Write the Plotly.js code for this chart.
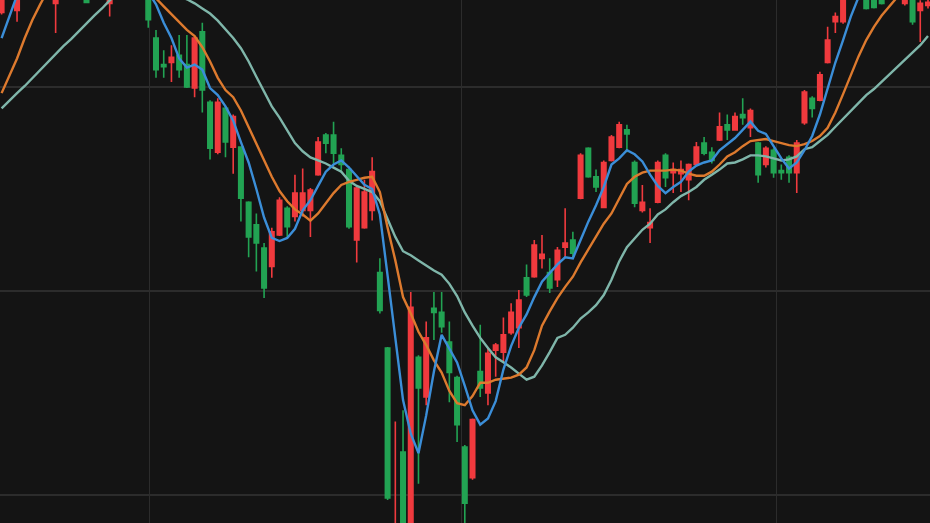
<!DOCTYPE html>
<html>
<head>
<meta charset="utf-8">
<script src="https://cdn.plot.ly/plotly-3.0.1.min.js"></script>
<style>
  html, body { margin: 0; padding: 0; background: #141414; }
  #chart { width: 930px; height: 523px; }
</style>
</head>
<body>
<div id="chart"></div>
<script>
const opens = [
  3473, 3515, 3475, 3493, 3515, 3534, 3520, 3482, 3505, 3534,
  3525, 3534, 3490, 3520, 3482, 3510, 3534, 3520, 3500, 3490,
  3448, 3422, 3424, 3431, 3422, 3399, 3454, 3385, 3336, 3379,
  3341, 3341, 3287, 3265, 3242, 3224, 3255, 3281, 3273, 3279,
  3279, 3314, 3353, 3353, 3333, 3319, 3250, 3262, 3279, 3218,
  3144, 2922, 3042, 2966, 3135, 3096, 3183, 3179, 3150, 3115,
  3047, 3017, 3121, 3100, 3142, 3140, 3159, 3164, 3213, 3214,
  3232, 3218, 3211, 3243, 3250, 3291, 3340, 3312, 3282, 3328,
  3341, 3358, 3326, 3279, 3262, 3287, 3333, 3316, 3315, 3309,
  3324, 3345, 3336, 3348, 3363, 3358, 3373, 3360, 3345, 3324,
  3338, 3318, 3331, 3316, 3365, 3389, 3387, 3424, 3464, 3464,
  3488, 3510, 3505, 3495, 3500, 3490, 3515, 3482, 3495, 3475, 3480
];
const highs = [
  3510, 3523, 3503, 3525, 3539, 3542, 3544, 3513, 3539, 3544,
  3554, 3544, 3529, 3549, 3515, 3539, 3544, 3525, 3520, 3497,
  3456, 3436, 3441, 3451, 3451, 3449, 3463, 3387, 3389, 3381,
  3373, 3342, 3288, 3276, 3247, 3262, 3292, 3283, 3314, 3320,
  3301, 3351, 3355, 3366, 3340, 3322, 3303, 3309, 3331, 3232,
  3145, 3072, 3083, 3199, 3137, 3170, 3199, 3199, 3170, 3117,
  3049, 3075, 3167, 3145, 3149, 3174, 3188, 3201, 3226, 3250,
  3255, 3232, 3243, 3281, 3258, 3335, 3341, 3319, 3328, 3353,
  3366, 3363, 3328, 3304, 3281, 3328, 3335, 3326, 3328, 3325,
  3346, 3351, 3341, 3375, 3373, 3375, 3389, 3379, 3346, 3342,
  3340, 3324, 3333, 3348, 3397, 3391, 3415, 3459, 3473, 3495,
  3515, 3520, 3513, 3505, 3510, 3520, 3529, 3525, 3505, 3485, 3490
];
const lows = [
  3471, 3490, 3464, 3490, 3510, 3515, 3515, 3453, 3500, 3520,
  3520, 3482, 3488, 3515, 3469, 3505, 3515, 3495, 3493, 3458,
  3409, 3409, 3405, 3409, 3399, 3390, 3375, 3329, 3334, 3331,
  3315, 3268, 3233, 3219, 3193, 3213, 3254, 3253, 3268, 3273,
  3253, 3313, 3335, 3325, 3316, 3261, 3228, 3261, 3269, 3178,
  2995, 2917, 2951, 2956, 3011, 3088, 3152, 3159, 3091, 3052,
  2961, 3015, 3096, 3088, 3116, 3130, 3157, 3144, 3194, 3213,
  3222, 3198, 3204, 3233, 3232, 3290, 3311, 3297, 3281, 3327,
  3340, 3336, 3282, 3277, 3247, 3286, 3302, 3296, 3297, 3289,
  3322, 3333, 3325, 3347, 3348, 3357, 3363, 3351, 3306, 3321,
  3311, 3309, 3306, 3296, 3363, 3370, 3386, 3423, 3453, 3462,
  3486, 3490, 3476, 3477, 3481, 3487, 3505, 3480, 3461, 3444, 3477
];
const closes = [
  3500, 3495, 3497, 3520, 3534, 3520, 3539, 3505, 3534, 3525,
  3549, 3483, 3525, 3544, 3510, 3534, 3520, 3500, 3515, 3466,
  3417, 3420, 3429, 3417, 3400, 3448, 3397, 3340, 3385, 3346,
  3371, 3291, 3253, 3247, 3203, 3258, 3289, 3263, 3296, 3296,
  3299, 3346, 3345, 3335, 3324, 3263, 3301, 3297, 3317, 3181,
  2997, 2956, 2966, 3184, 3105, 3154, 3179, 3165, 3120, 3069,
  2992, 3074, 3105, 3139, 3147, 3157, 3179, 3191, 3196, 3245,
  3236, 3203, 3240, 3247, 3237, 3333, 3312, 3302, 3326, 3351,
  3363, 3354, 3286, 3287, 3267, 3326, 3311, 3319, 3319, 3324,
  3341, 3335, 3328, 3361, 3358, 3371, 3370, 3377, 3314, 3340,
  3316, 3316, 3316, 3345, 3395, 3379, 3412, 3446, 3469, 3488,
  3510, 3495, 3477, 3478, 3482, 3515, 3525, 3520, 3464, 3482, 3483
];
const ma5 = [
  3448, 3470, 3490, 3505, 3515, 3523, 3526, 3529, 3529, 3532,
  3534, 3532, 3529, 3529, 3526, 3525, 3520, 3513, 3500, 3493,
  3481, 3463, 3448, 3428, 3419, 3422, 3417, 3399, 3392, 3381,
  3367, 3346, 3326, 3300, 3272, 3252, 3249, 3252, 3261, 3279,
  3289, 3303, 3317, 3324, 3328, 3321, 3312, 3304, 3300, 3275,
  3215, 3151, 3093, 3060, 3041, 3078, 3121, 3157, 3143, 3130,
  3107, 3083, 3069, 3075, 3092, 3123, 3146, 3164, 3177, 3194,
  3209, 3218, 3226, 3233, 3232, 3250, 3268, 3284, 3302, 3324,
  3330, 3338, 3334, 3327, 3314, 3303, 3296, 3302, 3307, 3317,
  3323, 3326, 3328, 3338, 3344, 3350, 3358, 3366, 3357, 3354,
  3342, 3330, 3320, 3326, 3338, 3352, 3373, 3398, 3424, 3446,
  3469, 3488, 3497, 3500, 3500, 3503, 3507, 3510, 3507, 3503, 3500
];
const ma10 = [
  3394, 3411, 3428, 3448, 3466, 3481, 3495, 3505, 3513, 3520,
  3525, 3526, 3529, 3529, 3528, 3525, 3517, 3507, 3497, 3489,
  3487, 3479, 3471, 3463, 3456, 3450, 3439, 3425, 3409, 3397,
  3390, 3377, 3361, 3344, 3328, 3312, 3298, 3288, 3280, 3275,
  3269, 3276, 3286, 3296, 3304, 3307, 3309, 3311, 3312, 3297,
  3262, 3230, 3194, 3178, 3160, 3147, 3132, 3120, 3102, 3090,
  3088, 3097, 3110, 3110, 3113, 3114, 3115, 3118, 3125, 3142,
  3166, 3180, 3193, 3204, 3214, 3228, 3241, 3253, 3266, 3276,
  3290, 3305, 3312, 3316, 3318, 3318, 3318, 3319, 3318, 3315,
  3313, 3313, 3317, 3324, 3332, 3336, 3342, 3347, 3348, 3349,
  3347, 3345, 3343, 3342, 3344, 3347, 3352, 3360, 3375, 3393,
  3412, 3430, 3446, 3459, 3470, 3479, 3488, 3493, 3497, 3500, 3503
];
const ma20 = [
  3379, 3387, 3394, 3401, 3409, 3417, 3425, 3432, 3440, 3447,
  3455, 3463, 3470, 3477, 3485, 3491, 3496, 3499, 3501, 3501,
  3500, 3497, 3493, 3489, 3486, 3482, 3477, 3472, 3465, 3457,
  3448, 3438, 3425, 3410, 3395, 3381, 3370, 3357, 3345, 3337,
  3331, 3328, 3325, 3321, 3317, 3308, 3303, 3300, 3297, 3288,
  3270, 3253, 3239, 3235, 3230, 3225, 3220, 3216, 3207, 3195,
  3179, 3166, 3154, 3144, 3135, 3130, 3125, 3119, 3113, 3116,
  3127, 3140, 3154, 3157, 3164, 3173, 3179, 3186, 3196, 3211,
  3229, 3243, 3252, 3260, 3266, 3275, 3280, 3287, 3293, 3297,
  3302, 3309, 3314, 3319, 3325, 3326, 3329, 3333, 3333, 3332,
  3330, 3328, 3329, 3332, 3339, 3341, 3347, 3353, 3361, 3369,
  3377, 3385, 3392, 3398, 3405, 3412, 3419, 3426, 3434, 3441, 3450
];

const idx = closes.map((_, i) => i);

const UP = '#f03a3e';
const DOWN = '#22a353';

const traces = [
  {
    type: 'candlestick',
    x: idx, open: opens, high: highs, low: lows, close: closes,
    increasing: { line: { color: UP, width: 1.6 }, fillcolor: UP },
    decreasing: { line: { color: DOWN, width: 1.6 }, fillcolor: DOWN },
    whiskerwidth: 0,
    hoverinfo: 'skip',
    showlegend: false
  },
  { type: 'scatter', mode: 'lines', x: idx, y: ma20, line: { color: '#7fb6aa', width: 2.4 }, hoverinfo: 'skip', showlegend: false },
  { type: 'scatter', mode: 'lines', x: idx, y: ma10, line: { color: '#dd7a2e', width: 2.4 }, hoverinfo: 'skip', showlegend: false },
  { type: 'scatter', mode: 'lines', x: idx, y: ma5, line: { color: '#3b8ed8', width: 2.4 }, hoverinfo: 'skip', showlegend: false }
];

const layout = {
  width: 930, height: 523,
  margin: { l: 0, r: 0, t: 0, b: 0, pad: 0 },
  paper_bgcolor: '#141414',
  plot_bgcolor: '#141414',
  showlegend: false,
  boxgap: 0.18,
  xaxis: {
    range: [-0.207, 120.26],
    tickmode: 'array', tickvals: [19.16, 59.6, 100.4],
    showticklabels: false, ticks: '',
    showgrid: true, gridcolor: '#2c2c2c', gridwidth: 1.3,
    zeroline: false, showline: false,
    rangeslider: { visible: false }
  },
  yaxis: {
    range: [2972.5, 3485.3],
    tickmode: 'array', tickvals: [3000, 3200, 3400],
    showticklabels: false, ticks: '',
    showgrid: true, gridcolor: '#2c2c2c', gridwidth: 1.3,
    zeroline: false, showline: false
  }
};

Plotly.newPlot('chart', traces, layout, { displayModeBar: false, staticPlot: true });
</script>
</body>
</html>
